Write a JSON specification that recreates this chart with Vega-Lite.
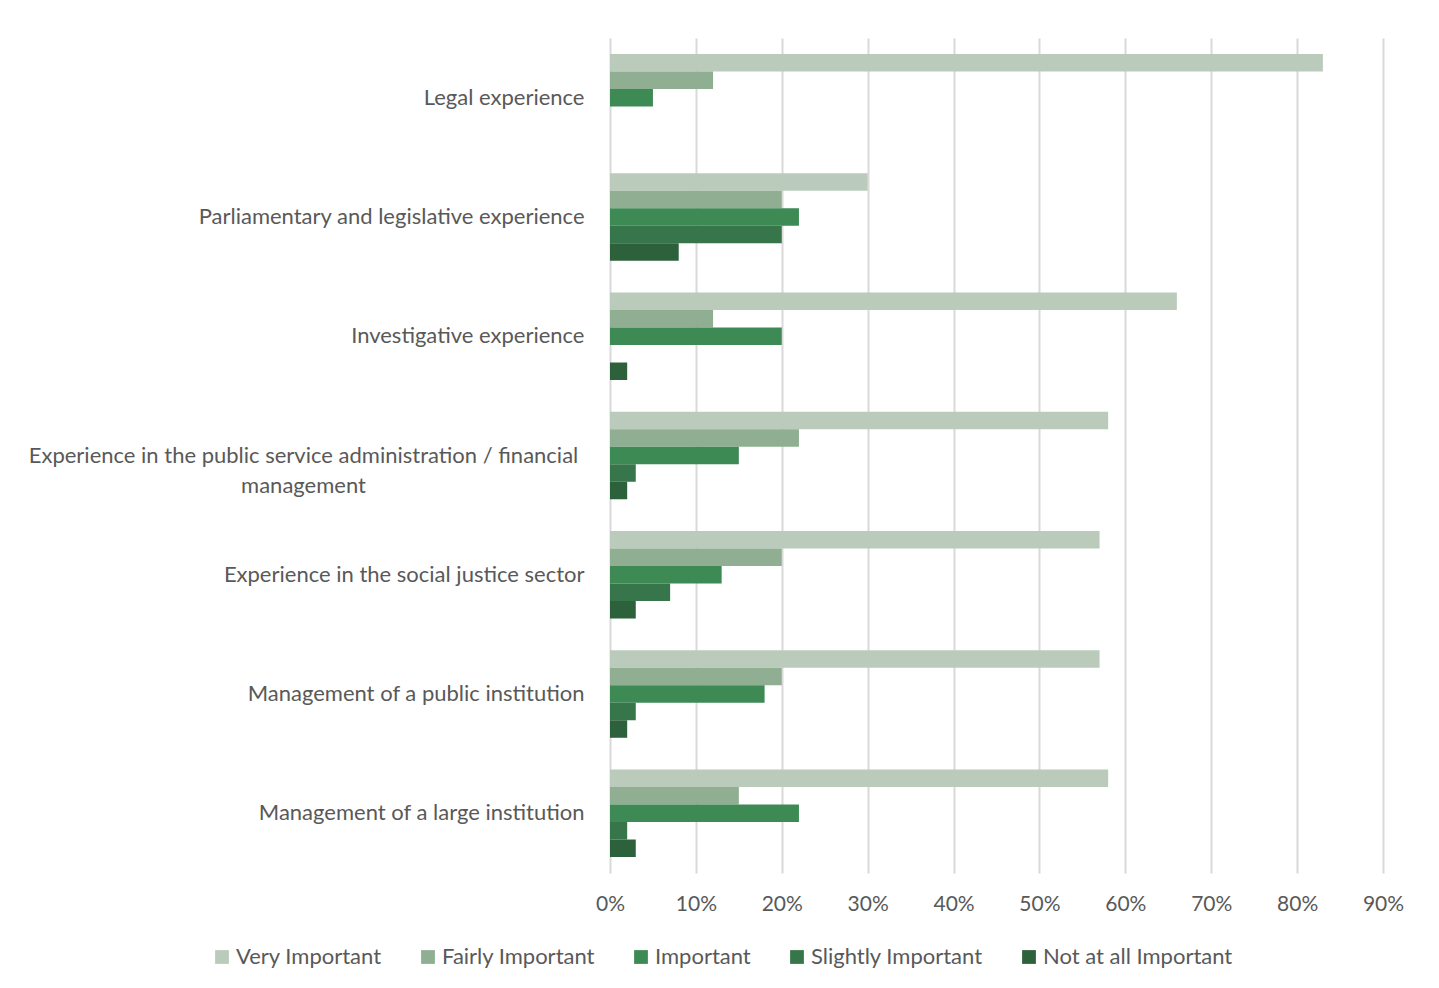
{
  "$schema": "https://vega.github.io/schema/vega-lite/v6.json",
  "width": 773,
  "height": 835,
  "padding": {"left": 28, "top": 38, "right": 20, "bottom": 10},
  "background": "white",
  "config": {
    "font": "Lato",
    "view": {"stroke": null},
    "axis": {"labelColor": "#595959", "labelFontSize": 22, "labelFont": "Lato"},
    "legend": {"labelColor": "#595959", "labelFontSize": 22, "labelFont": "Lato"}
  },
  "data": {
    "values": [
      {"skill": "Legal experience", "level": "Very Important", "pct": 83},
      {"skill": "Legal experience", "level": "Fairly Important", "pct": 12},
      {"skill": "Legal experience", "level": "Important", "pct": 5},
      {"skill": "Legal experience", "level": "Slightly Important", "pct": 0},
      {"skill": "Legal experience", "level": "Not at all Important", "pct": 0},
      {"skill": "Parliamentary and legislative experience", "level": "Very Important", "pct": 30},
      {"skill": "Parliamentary and legislative experience", "level": "Fairly Important", "pct": 20},
      {"skill": "Parliamentary and legislative experience", "level": "Important", "pct": 22},
      {"skill": "Parliamentary and legislative experience", "level": "Slightly Important", "pct": 20},
      {"skill": "Parliamentary and legislative experience", "level": "Not at all Important", "pct": 8},
      {"skill": "Investigative experience", "level": "Very Important", "pct": 66},
      {"skill": "Investigative experience", "level": "Fairly Important", "pct": 12},
      {"skill": "Investigative experience", "level": "Important", "pct": 20},
      {"skill": "Investigative experience", "level": "Slightly Important", "pct": 0},
      {"skill": "Investigative experience", "level": "Not at all Important", "pct": 2},
      {"skill": "Experience in the public service administration / financial management", "level": "Very Important", "pct": 58},
      {"skill": "Experience in the public service administration / financial management", "level": "Fairly Important", "pct": 22},
      {"skill": "Experience in the public service administration / financial management", "level": "Important", "pct": 15},
      {"skill": "Experience in the public service administration / financial management", "level": "Slightly Important", "pct": 3},
      {"skill": "Experience in the public service administration / financial management", "level": "Not at all Important", "pct": 2},
      {"skill": "Experience in the social justice sector", "level": "Very Important", "pct": 57},
      {"skill": "Experience in the social justice sector", "level": "Fairly Important", "pct": 20},
      {"skill": "Experience in the social justice sector", "level": "Important", "pct": 13},
      {"skill": "Experience in the social justice sector", "level": "Slightly Important", "pct": 7},
      {"skill": "Experience in the social justice sector", "level": "Not at all Important", "pct": 3},
      {"skill": "Management of a public institution", "level": "Very Important", "pct": 57},
      {"skill": "Management of a public institution", "level": "Fairly Important", "pct": 20},
      {"skill": "Management of a public institution", "level": "Important", "pct": 18},
      {"skill": "Management of a public institution", "level": "Slightly Important", "pct": 3},
      {"skill": "Management of a public institution", "level": "Not at all Important", "pct": 2},
      {"skill": "Management of a large institution", "level": "Very Important", "pct": 58},
      {"skill": "Management of a large institution", "level": "Fairly Important", "pct": 15},
      {"skill": "Management of a large institution", "level": "Important", "pct": 22},
      {"skill": "Management of a large institution", "level": "Slightly Important", "pct": 2},
      {"skill": "Management of a large institution", "level": "Not at all Important", "pct": 3}
    ]
  },
  "mark": {"type": "bar"},
  "encoding": {
    "y": {
      "field": "skill",
      "type": "nominal",
      "sort": null,
      "scale": {"paddingInner": 0.266, "paddingOuter": 0.134},
      "axis": {
        "title": null,
        "ticks": false,
        "domain": false,
        "labelLimit": 700,
        "labelLineHeight": 30,
        "labelExpr": "datum.label == 'Experience in the public service administration / financial management' ? ['Experience in the public service administration / financial', 'management'] : datum.label",
        "labelAlign": {"condition": {"test": "datum.value == 'Experience in the public service administration / financial management'", "value": "center"}, "value": "right"},
        "labelPadding": {"condition": {"test": "datum.value == 'Experience in the public service administration / financial management'", "value": 307}, "value": 26}
      }
    },
    "yOffset": {
      "field": "level",
      "type": "nominal",
      "sort": ["Very Important", "Fairly Important", "Important", "Slightly Important", "Not at all Important"],
      "scale": {"paddingInner": 0, "paddingOuter": 0}
    },
    "x": {
      "field": "pct",
      "type": "quantitative",
      "scale": {"domain": [0, 90], "nice": false},
      "axis": {
        "title": null,
        "values": [0, 10, 20, 30, 40, 50, 60, 70, 80, 90],
        "labelExpr": "datum.value + '%'",
        "labelFlush": false,
        "labelFontSize": 21,
        "ticks": false,
        "domain": false,
        "grid": true,
        "gridColor": "#d9d9d9",
        "gridWidth": 2,
        "labelPadding": 20
      }
    },
    "color": {
      "field": "level",
      "type": "nominal",
      "sort": ["Very Important", "Fairly Important", "Important", "Slightly Important", "Not at all Important"],
      "scale": {
        "domain": ["Very Important", "Fairly Important", "Important", "Slightly Important", "Not at all Important"],
        "range": ["#BACBBC", "#8FAE92", "#3E8A55", "#37754A", "#2C613B"]
      },
      "legend": {
        "title": null,
        "orient": "none",
        "legendX": -399,
        "legendY": 908,
        "direction": "horizontal",
        "symbolType": "square",
        "symbolSize": 190,
        "symbolStrokeWidth": 0,
        "columnPadding": 35,
        "labelOffset": 3,
        "labelLimit": 400
      }
    }
  }
}
